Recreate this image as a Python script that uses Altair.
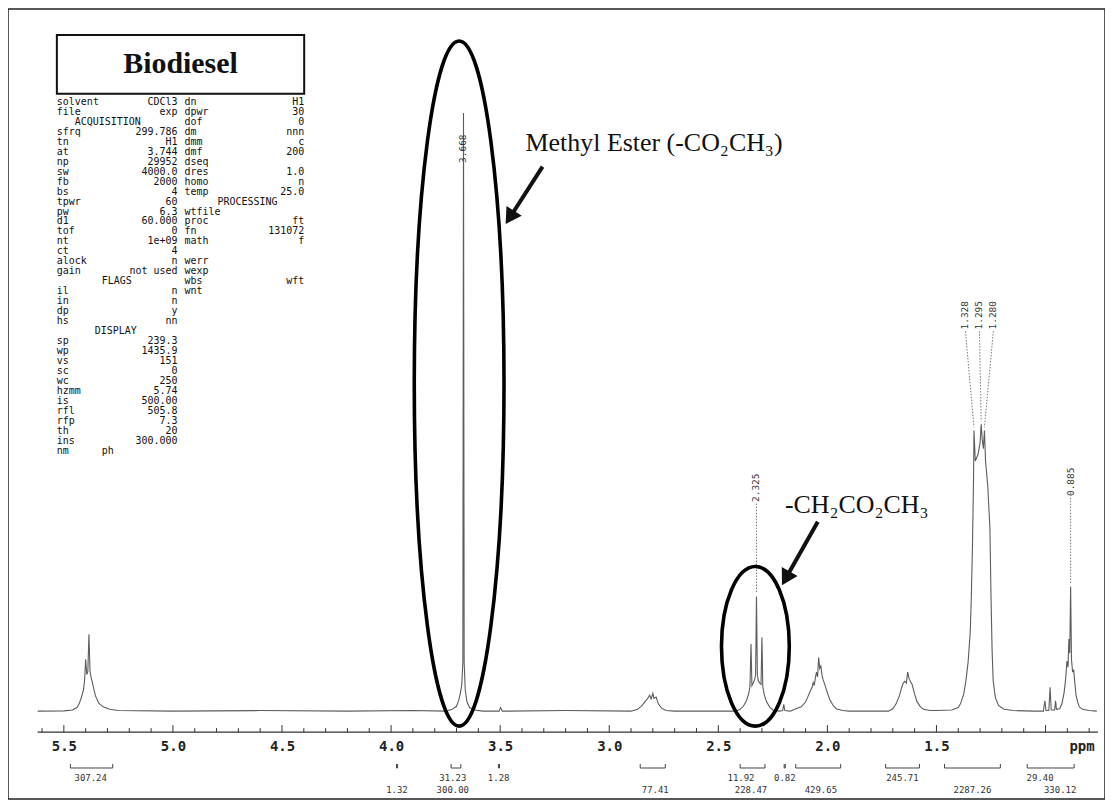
import math
import altair as alt
import pandas as pd

# ---------------- spectrum trace (ppm, intensity; 3.668 ppm singlet = 100) ----------------
olefin_ppm = [5.620, 5.500, 5.460, 5.440, 5.430, 5.420, 5.410, 5.405, 5.400, 5.395, 5.390, 5.385, 5.380,
              5.375, 5.370, 5.365, 5.355, 5.340, 5.320, 5.290, 5.250, 5.000, 4.600, 4.200, 3.900]
olefin_int = [0.0, 0.05, 0.2, 0.6, 1.2, 2.2, 3.5, 5.0, 8.5, 6.0, 6.5, 12.6, 6.5,
              5.5, 4.8, 4.0, 2.5, 1.3, 0.7, 0.3, 0.1, 0.0, 0.1, 0.0, 0.1]
methyl_ppm = [3.750, 3.720, 3.700, 3.690, 3.682, 3.676, 3.671, 3.668, 3.665, 3.660, 3.652, 3.640,
              3.620, 3.580, 3.505, 3.498, 3.490, 3.200]
methyl_int = [0.0, 0.3, 0.8, 1.8, 3.0, 4.3, 8.0, 98.0, 8.0, 3.5, 1.5, 0.6,
              0.2, 0.0, 0.0, 0.6, 0.0, 0.1]
bisallyl_ppm = [2.900, 2.870, 2.850, 2.835, 2.825, 2.815, 2.808, 2.800, 2.795, 2.785, 2.775, 2.760, 2.740, 2.700]
bisallyl_int = [0.0, 0.3, 0.9, 1.6, 2.0, 2.6, 2.0, 2.9, 2.1, 2.3, 1.2, 0.5, 0.1, 0.0]
alpha_ppm = [2.420, 2.400, 2.385, 2.370, 2.360, 2.355, 2.350, 2.346, 2.340, 2.333, 2.329, 2.325, 2.321,
             2.317, 2.310, 2.304, 2.300, 2.296, 2.290, 2.280, 2.265, 2.250, 2.220, 2.205, 2.200, 2.195]
alpha_int = [0.0, 0.3, 0.8, 1.8, 3.0, 4.0, 11.0, 4.2, 4.6, 5.2, 6.0, 18.8, 6.0,
             5.0, 4.6, 4.4, 12.1, 4.0, 2.8, 1.6, 0.7, 0.2, 0.0, 0.1, 1.1, 0.1]
allyl_ppm = [2.170, 2.150, 2.120, 2.100, 2.090, 2.080, 2.070, 2.065, 2.060, 2.055, 2.050, 2.045,
             2.040, 2.035, 2.030, 2.025, 2.020, 2.012, 2.000, 1.990, 1.975, 1.960, 1.930, 1.900]
allyl_int = [0.0, 0.3, 0.7, 1.5, 2.3, 3.2, 3.9, 4.7, 4.2, 5.5, 6.4, 5.6,
             8.8, 7.0, 7.4, 6.0, 5.2, 4.4, 3.0, 2.0, 1.0, 0.4, 0.1, 0.0]
beta_ppm = [1.720, 1.700, 1.685, 1.670, 1.660, 1.652, 1.645, 1.638, 1.632, 1.626, 1.620, 1.612,
            1.600, 1.590, 1.575, 1.560, 1.530, 1.500]
beta_int = [0.0, 0.4, 1.2, 2.5, 3.8, 4.6, 4.9, 4.6, 6.4, 5.4, 4.9, 4.4,
            2.8, 1.6, 0.8, 0.3, 0.1, 0.1]
chain_ppm = [1.430, 1.400, 1.390, 1.375, 1.365, 1.355, 1.345, 1.340, 1.335, 1.330, 1.328, 1.322, 1.310, 1.300, 1.295,
             1.290, 1.285, 1.280, 1.275, 1.265, 1.255, 1.250, 1.245, 1.240, 1.230, 1.215, 1.190, 1.150, 1.050]
chain_int = [0.2, 0.6, 1.2, 2.8, 5.0, 8.0, 13.0, 19.0, 27.0, 38.0, 46.0, 41.0, 42.0, 44.0, 47.0,
             44.5, 43.0, 46.0, 41.0, 37.0, 30.0, 19.0, 10.0, 5.0, 2.2, 0.9, 0.3, 0.1, 0.0]
term_ppm = [1.010, 1.003, 0.998, 0.985, 0.979, 0.974, 0.958, 0.954, 0.950, 0.935, 0.925, 0.915, 0.908, 0.902,
            0.897, 0.893, 0.889, 0.885, 0.881, 0.876, 0.871, 0.866, 0.860, 0.852, 0.845, 0.830, 0.800, 0.765]
term_int = [0.0, 1.7, 0.1, 0.1, 3.9, 0.2, 0.2, 1.7, 0.3, 0.4, 1.2, 3.0, 5.2, 8.2,
            7.2, 11.8, 9.5, 20.4, 8.5, 6.4, 6.8, 4.7, 2.6, 1.4, 0.7, 0.3, 0.1, 0.0]

# ---------------- peak picks ----------------
peak_text = ["3.668", "2.325", "1.328", "1.295", "1.280", "0.885"]
peak_ppm = [3.668, 2.325, 1.328, 1.295, 1.280, 0.885]
peak_top = [98.0, 18.8, 46.0, 47.0, 46.0, 20.4]

# ---------------- integrals ----------------
integral_text = ["307.24", "1.32", "31.23", "300.00", "1.28", "77.41", "11.92", "228.47",
                 "0.82", "429.65", "245.71", "2287.26", "29.40", "330.12"]
integral_ppm = [5.377, 3.973, 3.717, 3.717, 3.507, 2.789, 2.396, 2.350,
                2.195, 2.030, 1.656, 1.335, 1.025, 0.933]
integral_row = [1, 2, 1, 2, 1, 2, 1, 2, 1, 2, 1, 2, 1, 2]
integral_from = [5.470, 3.975, 3.725, 3.508, 2.858, 2.400, 2.198, 2.145, 1.733, 1.463, 1.084]
integral_to = [5.276, 3.970, 3.680, 3.503, 2.743, 2.286, 2.193, 1.939, 1.578, 1.207, 0.869]

axis_labels_ppm = [5.5, 5.0, 4.5, 4.0, 3.5, 3.0, 2.5, 2.0, 1.5]

# ---------------- acquisition parameter printout ----------------
left_names = ["solvent", "file", "", "sfrq", "tn", "at", "np", "sw", "fb", "bs", "tpwr", "pw", "d1", "tof",
              "nt", "ct", "alock", "gain", "", "il", "in", "dp", "hs", "", "sp", "wp", "vs", "sc", "wc",
              "hzmm", "is", "rfl", "rfp", "th", "ins", "nm"]
left_values = ["CDCl3", "exp", "", "299.786", "H1", "3.744", "29952", "4000.0", "2000", "4", "60", "6.3",
               "60.000", "0", "1e+09", "4", "n", "not used", "", "n", "n", "y", "nn", "", "239.3", "1435.9",
               "151", "0", "250", "5.74", "500.00", "505.8", "7.3", "20", "300.000", ""]
right_names = ["dn", "dpwr", "dof", "dm", "dmm", "dmf", "dseq", "dres", "homo", "temp", "", "wtfile",
               "proc", "fn", "math", "", "werr", "wexp", "wbs", "wnt"]
right_values = ["H1", "30", "0", "nnn", "c", "200", "", "1.0", "n", "25.0", "", "", "ft", "131072", "f",
                "", "", "", "wft", ""]
section_text = ["ACQUISITION", "PROCESSING", "FLAGS", "DISPLAY", "ph"]
section_row = [2, 10, 18, 23, 35]

# ---------------- layout ----------------
W, H = 1100, 792
PAGE = 8
def vx(x):
    return x - PAGE
def vy(y):
    return y - PAGE

BASE_PX, PX_PER_UNIT = 712.0, 6.12
def int_at(py):
    return (BASE_PX - py) / PX_PER_UNIT

ppm_scale = alt.Scale(domain=[5.756, 0.7274], range=[0, W], nice=False, zero=False)
int_scale = alt.Scale(domain=[int_at(800), int_at(8)], range=[H, 0], nice=False, zero=False)
MONO = "DejaVu Sans Mono"
SERIF = "Liberation Serif"

def X(field="ppm"):
    return alt.X(f"{field}:Q", scale=ppm_scale, axis=None)
def Y(field="i"):
    return alt.Y(f"{field}:Q", scale=int_scale, axis=None)
def PX(field):
    return alt.X(f"{field}:Q", scale=None)
def PY(field):
    return alt.Y(f"{field}:Q", scale=None)

spec_df = pd.DataFrame({
    "ppm": olefin_ppm + methyl_ppm + bisallyl_ppm + alpha_ppm + allyl_ppm + beta_ppm + chain_ppm + term_ppm,
    "i": olefin_int + methyl_int + bisallyl_int + alpha_int + allyl_int + beta_int + chain_int + term_int,
})
spec_df["k"] = range(len(spec_df))

layers = []

# spectrum with the ppm axis
layers.append(alt.Chart(spec_df).mark_line(color="#5c5c5c", strokeWidth=1.1).encode(
    x=alt.X("ppm:Q", scale=ppm_scale, axis=alt.Axis(
        values=axis_labels_ppm, format=".1f", domain=False, ticks=False, grid=False, title=None,
        labelFont=MONO, labelFontSize=14, labelColor="#222", labelPadding=7, offset=-67,
        labelFlush=False, labelOverlap=False, labelFontWeight="bold")),
    y=Y("i"),
    order="k:Q",
))

# axis base line and ticks
AXIS_I = int_at(733)
layers.append(alt.Chart(pd.DataFrame({"a": [5.62], "b": [0.76], "i": [AXIS_I]})).mark_rule(
    color="#333", strokeWidth=1.4).encode(x=X("a"), x2="b:Q", y=Y("i")))
tick_df = pd.DataFrame({"ppm": [round(5.6 - 0.1 * k, 1) for k in range(49)]})
tick_df["i"] = AXIS_I
tick_df["i2"] = [AXIS_I + (7 if abs(p * 2 - round(p * 2)) < 1e-6 else 4) / PX_PER_UNIT for p in tick_df["ppm"]]
layers.append(alt.Chart(tick_df).mark_rule(color="#333", strokeWidth=1).encode(
    x=X("ppm"), y=Y("i"), y2="i2:Q"))
layers.append(alt.Chart(pd.DataFrame({"t": ["ppm"], "x": [vx(1085)], "y": [vy(748)]})).mark_text(
    font=MONO, fontSize=14, fontWeight="bold", color="#222", baseline="middle").encode(
    x=PX("x"), y=PY("y"), text="t:N"))

# integral brackets and values
br = pd.DataFrame({"a": integral_from, "b": integral_to})
br["y"] = vy(769)
br["y2"] = vy(765)
layers.append(alt.Chart(br).mark_rule(color="#444", strokeWidth=1).encode(x=X("a"), x2="b:Q", y=PY("y")))
layers.append(alt.Chart(br).mark_rule(color="#444", strokeWidth=1).encode(x=X("a"), y=PY("y"), y2="y2:Q"))
layers.append(alt.Chart(br).mark_rule(color="#444", strokeWidth=1).encode(x=X("b"), y=PY("y"), y2="y2:Q"))
it = pd.DataFrame({"t": integral_text, "ppm": integral_ppm, "row": integral_row})
it["y"] = [vy(779) if r == 1 else vy(791) for r in it["row"]]
layers.append(alt.Chart(it).mark_text(font=MONO, fontSize=9, color="#333", baseline="middle").encode(
    x=X("ppm"), y=PY("y"), text="t:N"))

# peak labels (vertical) and their connectors
label_ppm = [3.668, 2.325, 1.367, 1.303, 1.239, 0.885]
label_py = [148, 488, 315, 315, 315, 482]
label_i = [int_at(p) for p in label_py]
pl = pd.DataFrame({"t": peak_text, "ppm": label_ppm, "i": label_i})
layers.append(alt.Chart(pl).mark_text(font=MONO, fontSize=9.5, color="#333", angle=270, baseline="middle").encode(
    x=X("ppm"), y=Y("i"), text="t:N"))
conn = pd.DataFrame({
    "a": label_ppm,
    "b": peak_ppm,
    "i": [li - 16 / PX_PER_UNIT for li in label_i],
    "i2": [pt + 0.5 for pt in peak_top],
})
conn = conn.iloc[1:]
layers.append(alt.Chart(conn).mark_rule(color="#777", strokeWidth=1, strokeDash=[1.5, 1.5]).encode(
    x=X("a"), x2="b:Q", y=Y("i"), y2="i2:Q"))

# hand-drawn ellipses around the two signals
ellipse_ppm = [3.688, 2.330]
ellipse_top_py = [40, 567]
ellipse_bottom_py = [727, 727]
ellipse_a = [45, 34]
for cp, top, bot, a in zip(ellipse_ppm, ellipse_top_py, ellipse_bottom_py, ellipse_a):
    b = (bot - top) / 2
    r = a / b
    path = f"M 0 -1 A {r:.4f} 1 0 1 1 0 1 A {r:.4f} 1 0 1 1 0 -1 Z"
    layers.append(alt.Chart(pd.DataFrame({"ppm": [cp], "i": [int_at((top + bot) / 2)]})).mark_point(
        shape=path, size=(2 * b) ** 2, filled=False, stroke="#000", strokeWidth=3.6, opacity=1).encode(
        x=X("ppm"), y=Y("i")))

# arrows
arrow_from = [(544, 166), (820, 522)]
arrow_to = [(508, 222), (785, 584)]
heads = []
for (x0, y0), (x1, y1) in zip(arrow_from, arrow_to):
    dx, dy = x1 - x0, y1 - y0
    L = math.hypot(dx, dy)
    ang = math.degrees(math.atan2(dx, -dy)) % 360
    heads.append({"x": vx(x1 - 6 * dx / L), "y": vy(y1 - 6 * dy / L), "ang": ang})
ar_line = pd.DataFrame({
    "x": [vx(p[0]) for p in arrow_from], "y": [vy(p[1]) for p in arrow_from],
    "x2": [h["x"] for h in heads], "y2": [h["y"] for h in heads],
})
layers.append(alt.Chart(ar_line).mark_rule(color="#111", strokeWidth=4).encode(
    x=PX("x"), y=PY("y"), x2="x2:Q", y2="y2:Q"))
layers.append(alt.Chart(pd.DataFrame(heads)).mark_point(
    shape="triangle-up", filled=True, color="#111", size=330, opacity=1).encode(
    x=PX("x"), y=PY("y"), angle=alt.Angle("ang:Q", scale=None)))

# captions
cap = pd.DataFrame({"t": ["Methyl Ester (-CO₂CH₃)", "-CH₂CO₂CH₃"],
                    "x": [vx(527), vx(787)], "y": [vy(150), vy(513)]})
layers.append(alt.Chart(cap).mark_text(font=SERIF, fontSize=26, color="#111", align="left",
                                       baseline="alphabetic").encode(
    x=PX("x"), y=PY("y"), text="t:N"))

# title box
box = pd.DataFrame({"x": [vx(57)], "x2": [vx(305)], "y": [vy(34)], "y2": [vy(93)]})
layers.append(alt.Chart(box).mark_rect(fill="white", stroke="#111", strokeWidth=2).encode(
    x=PX("x"), x2="x2:Q", y=PY("y"), y2="y2:Q"))
layers.append(alt.Chart(pd.DataFrame({"t": ["Biodiesel"], "x": [vx(181)], "y": [vy(63)]})).mark_text(
    font=SERIF, fontSize=30, fontWeight="bold", color="#111", baseline="middle").encode(
    x=PX("x"), y=PY("y"), text="t:N"))

# parameter printout
ROW0, STEP = 101, 10.0
ldf = pd.DataFrame({"n": left_names, "v": left_values})
ldf["y"] = [vy(ROW0 + STEP * k) for k in range(len(ldf))]
rdf = pd.DataFrame({"n": right_names, "v": right_values})
rdf["y"] = [vy(ROW0 + STEP * k) for k in range(len(rdf))]
sdf = pd.DataFrame({"t": section_text, "row": section_row})
sdf["y"] = [vy(ROW0 + STEP * r) for r in sdf["row"]]
sdf["x"] = [vx(v) for v in [75, 218, 102, 95, 102]]
txt = dict(font=MONO, fontSize=10, color="#111", baseline="middle")
layers.append(alt.Chart(ldf).mark_text(align="left", **txt).encode(x=alt.value(vx(57)), y=PY("y"), text="n:N"))
layers.append(alt.Chart(ldf).mark_text(align="right", **txt).encode(x=alt.value(vx(178)), y=PY("y"), text="v:N"))
layers.append(alt.Chart(rdf).mark_text(align="left", **txt).encode(x=alt.value(vx(185)), y=PY("y"), text="n:N"))
layers.append(alt.Chart(rdf).mark_text(align="right", **txt).encode(x=alt.value(vx(305)), y=PY("y"), text="v:N"))
layers.append(alt.Chart(sdf).mark_text(align="left", **txt).encode(x=PX("x"), y=PY("y"), text="t:N"))

chart = alt.layer(*layers).resolve_scale(x="independent", y="independent").properties(
    width=W, height=H, padding=0, autosize="none", background="white"
).configure_view(stroke="#222", strokeWidth=1.5)

chart.save("out.html", embed_options={"renderer": "svg", "actions": False})
